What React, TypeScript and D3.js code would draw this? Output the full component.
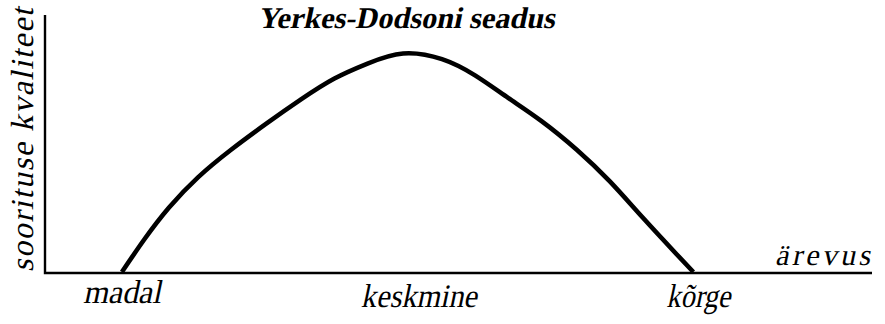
import React from "react";
import * as d3 from "d3";

const arousal = [9.3, 12.0, 15.0, 18.5, 22.5, 26.8, 31.0, 35.0, 39.0, 43.3, 48.0, 52.0, 56.0, 60.0, 64.3, 68.3, 72.3, 76.4, 78.4];
const performance = [0, 12.6, 25.0, 36.7, 47.4, 57.6, 67.0, 75.0, 80.8, 84.7, 82.5, 76.2, 67.5, 58.6, 47.4, 35.1, 21.0, 6.8, 0];
const levelLabels = ["madal", "keskmine", "kõrge"];
const levelPositions = [9.3, 45.2, 79.0];
const title = "Yerkes-Dodsoni seadus";
const xTitle = "ärevus";
const yTitle = "soorituse kvaliteet";

const W = 885;
const H = 324;
const left = 45;
const right = 872;
const top = 14;
const bottom = 272;
const SKEW = -12;
const FONT = "Liberation Serif";

export default function App() {
  const x = d3.scaleLinear().domain([0, 100]).range([left, right]);
  const y = d3.scaleLinear().domain([0, 100]).range([bottom, top]);
  const pts = arousal.map((a, i) => [a, performance[i]] as [number, number]);
  const line = d3
    .line<[number, number]>()
    .x((d) => x(d[0]))
    .y((d) => y(d[1]))
    .curve(d3.curveNatural);
  const baselines = [303, 307, 307];
  const widths = [78, 116, 64];
  return (
    <svg
      width={W}
      height={H}
      style={{ position: "absolute", left: 0, top: 0, background: "#fff" }}
    >
      <path
        d={`M${x(0)},${y(100) + 1}V${y(0) + 1}H${x(100)}`}
        fill="none"
        stroke="#000"
        strokeWidth={2.4}
      />
      <path d={line(pts) ?? ""} fill="none" stroke="#000" strokeWidth={4.6} strokeLinecap="butt" />
      <g transform={`translate(406,28) skewX(${SKEW})`}>
        <text
          textAnchor="middle"
          fontFamily={FONT}
          fontWeight="bold"
          fontSize={30}
          textLength={297}
          lengthAdjust="spacingAndGlyphs"
        >
          {title}
        </text>
      </g>
      <g transform={`translate(870,265) skewX(${SKEW})`}>
        <text
          x={-95}
          fontFamily={FONT}
          fontSize={30}
          textLength={95}
          lengthAdjust="spacing"
        >
          {xTitle}
        </text>
      </g>
      <g transform={`translate(33,139) rotate(-90) skewX(${SKEW})`}>
        <text
          x={-133}
          fontFamily={FONT}
          fontSize={32}
          textLength={264}
          lengthAdjust="spacing"
        >
          {yTitle}
        </text>
      </g>
      {levelLabels.map((l, i) => (
        <g key={l} transform={`translate(${x(levelPositions[i])},${baselines[i]}) skewX(${SKEW})`}>
          <text
            x={-widths[i] / 2}
            fontFamily={FONT}
            fontSize={33}
            textLength={widths[i]}
            lengthAdjust="spacingAndGlyphs"
          >
            {l}
          </text>
        </g>
      ))}
    </svg>
  );
}
